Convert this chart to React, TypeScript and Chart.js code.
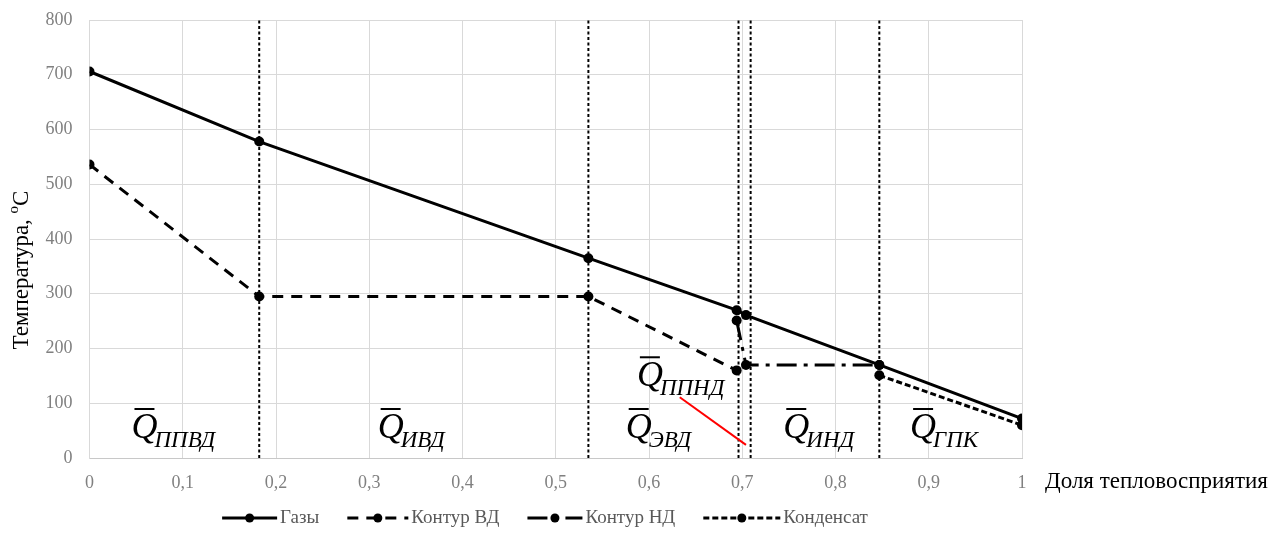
import React, { useEffect, useRef } from 'react';
import { Chart, registerables } from 'chart.js';

Chart.register(...registerables);

// ---------- data ----------
const xTickLabels = ['0', '0,1', '0,2', '0,3', '0,4', '0,5', '0,6', '0,7', '0,8', '0,9', '1'];
const yMin = 0;
const yMax = 800;

const gasX = [0, 0.182, 0.535, 0.694, 0.704, 0.847, 1];
const gasY = [706, 578, 365, 270, 261, 170, 72];

const hpX = [0, 0.182, 0.535, 0.694];
const hpY = [536, 295, 295, 160];

const lpX = [0.694, 0.704, 0.847];
const lpY = [251, 170, 170];

const condX = [0.847, 1];
const condY = [151, 60];

const boundaryX = [0.182, 0.535, 0.696, 0.709, 0.847];

const pointerX = [0.633, 0.704];
const pointerY = [111, 24];

const sectionLabels = ['ППВД', 'ИВД', 'ЭВД', 'ППНД', 'ИНД', 'ГПК'];
const sectionLabelX = [0.045, 0.309, 0.575, 0.587, 0.744, 0.88];
const sectionLabelY = [36.5, 36.5, 36.5, 131, 36.5, 36.5];

const seriesNames = ['Газы', 'Контур ВД', 'Контур НД', 'Конденсат'];
const seriesDash: number[][] = [[], [11, 8], [20, 7, 4, 7], [6, 3]];
const legendSampleW = [55, 61, 55, 77];

const yTitle = 'Температура, ';
const xTitle = 'Доля тепловосприятия';

const FONT = '"Liberation Serif", "Times New Roman", serif';

const pts = (xs: number[], ys: number[]) => xs.map((x, i) => ({ x, y: ys[i] }));

const overlayPlugin = {
  id: 'overlay',
  afterDraw(chart: any) {
    const ctx = chart.ctx as CanvasRenderingContext2D;
    const xs = chart.scales.x;
    const ys = chart.scales.y;
    ctx.save();

    // section labels Q̄_xxx
    sectionLabels.forEach((s, i) => {
      const x = xs.getPixelForValue(sectionLabelX[i]);
      const y = ys.getPixelForValue(sectionLabelY[i]);
      ctx.fillStyle = '#000';
      ctx.textAlign = 'left';
      ctx.textBaseline = 'alphabetic';
      ctx.font = `italic 36px ${FONT}`;
      ctx.fillText('Q', x, y);
      const qw = ctx.measureText('Q').width;
      ctx.beginPath();
      ctx.lineWidth = 2;
      ctx.strokeStyle = '#000';
      ctx.moveTo(x + 3, y - 29);
      ctx.lineTo(x + qw - 3, y - 29);
      ctx.stroke();
      ctx.font = `italic 23px ${FONT}`;
      ctx.fillText(s, x + qw - 3, y + 8.5);
    });

    // y title with superscript o
    ctx.save();
    ctx.translate(14, 262);
    ctx.rotate(-Math.PI / 2);
    ctx.font = `23px ${FONT}`;
    const w1 = ctx.measureText(yTitle).width;
    ctx.font = `15px ${FONT}`;
    const w2 = ctx.measureText('o').width;
    ctx.font = `23px ${FONT}`;
    const w3 = ctx.measureText('C').width;
    const start = -(w1 + w2 + w3) / 2;
    ctx.fillStyle = '#000';
    ctx.textBaseline = 'middle';
    ctx.textAlign = 'left';
    ctx.fillText(yTitle, start, 0);
    ctx.font = `15px ${FONT}`;
    ctx.fillText('o', start + w1, -8);
    ctx.font = `23px ${FONT}`;
    ctx.fillText('C', start + w1 + w2, 0);
    ctx.restore();

    // x title
    ctx.font = `23px ${FONT}`;
    ctx.fillStyle = '#000';
    ctx.textAlign = 'left';
    ctx.textBaseline = 'middle';
    ctx.fillText(xTitle, 1037, 474);

    // legend
    const gap = 3;
    const itemGap = 28;
    ctx.font = `19px ${FONT}`;
    const widths = seriesNames.map((n, i) => legendSampleW[i] + gap + ctx.measureText(n).width);
    const total = widths.reduce((a, b) => a + b, 0) + itemGap * (seriesNames.length - 1);
    let lx = 537 - total / 2;
    const ly = 510;
    seriesNames.forEach((n, i) => {
      const sw = legendSampleW[i];
      ctx.beginPath();
      ctx.setLineDash(seriesDash[i]);
      ctx.lineWidth = 3;
      ctx.strokeStyle = '#000';
      ctx.moveTo(lx, ly);
      ctx.lineTo(lx + sw, ly);
      ctx.stroke();
      ctx.setLineDash([]);
      ctx.beginPath();
      ctx.fillStyle = '#000';
      ctx.arc(lx + sw / 2, ly, 4.5, 0, Math.PI * 2);
      ctx.fill();
      ctx.fillStyle = '#595959';
      ctx.textAlign = 'left';
      ctx.textBaseline = 'middle';
      ctx.fillText(n, lx + sw + gap, ly);
      lx += widths[i] + itemGap;
    });

    ctx.restore();
  },
};

export default function App() {
  const ref = useRef<HTMLCanvasElement | null>(null);

  useEffect(() => {
    if (!ref.current) return;
    Chart.defaults.font.family = FONT;

    const seriesStyle = (i: number) => ({
      borderColor: '#000',
      backgroundColor: '#000',
      borderWidth: 3,
      borderDash: seriesDash[i],
      pointRadius: 5,
      pointHoverRadius: 5,
      pointBorderWidth: 0,
      pointBackgroundColor: '#000',
      showLine: true,
      tension: 0,
    });

    const boundarySets = boundaryX.map((bx) => ({
      data: [
        { x: bx, y: yMin },
        { x: bx, y: yMax },
      ],
      borderColor: '#000',
      borderWidth: 2,
      borderDash: [3, 2.5],
      pointRadius: 0,
      showLine: true,
      order: 10,
    }));

    const chart = new Chart(ref.current, {
      type: 'scatter',
      data: {
        datasets: [
          { data: pts(gasX, gasY), ...seriesStyle(0), order: 1 },
          { data: pts(hpX, hpY), ...seriesStyle(1), order: 2 },
          { data: pts(lpX, lpY), ...seriesStyle(2), order: 3 },
          { data: pts(condX, condY), ...seriesStyle(3), order: 4 },
          ...boundarySets,
          {
            data: pts(pointerX, pointerY),
            borderColor: '#ff0000',
            borderWidth: 2,
            pointRadius: 0,
            showLine: true,
            order: 0,
          },
        ] as any,
      },
      options: {
        responsive: false,
        animation: false,
        events: [],
        layout: { autoPadding: false, padding: { top: 12, right: 248, bottom: 0, left: 0 } },
        plugins: {
          legend: { display: false },
          tooltip: { enabled: false },
        },
        scales: {
          x: {
            type: 'linear',
            min: 0,
            max: 1,
            afterFit: (s: any) => {
              s.height = 70;
              s.paddingLeft = 0;
              s.paddingRight = 0;
            },
            ticks: {
              stepSize: 0.1,
              color: '#808080',
              font: { size: 18, family: FONT },
              padding: 14,
              maxRotation: 0,
              autoSkip: false,
              callback: (v: any) => {
                const idx = Math.round(Number(v) * 10);
                return xTickLabels[idx] ?? '';
              },
            },
            grid: { color: '#d9d9d9', lineWidth: 1, drawTicks: false },
            border: { color: '#c8c8c8', width: 1 },
          },
          y: {
            type: 'linear',
            min: yMin,
            max: yMax,
            afterFit: (s: any) => {
              s.width = 81.5;
              s.paddingTop = 0;
              s.paddingBottom = 0;
            },
            ticks: {
              stepSize: 100,
              color: '#808080',
              font: { size: 18, family: FONT },
              padding: 17,
            },
            grid: { color: '#d9d9d9', lineWidth: 1, drawTicks: false },
            border: { color: '#d9d9d9', width: 1 },
          },
        },
      } as any,
      plugins: [overlayPlugin],
    });

    return () => chart.destroy();
  }, []);

  return (
    <div style={{ width: 1262, height: 520 }}>
      <canvas ref={ref} width={1262} height={520} style={{ width: 1262, height: 520, display: 'block' }} />
    </div>
  );
}
